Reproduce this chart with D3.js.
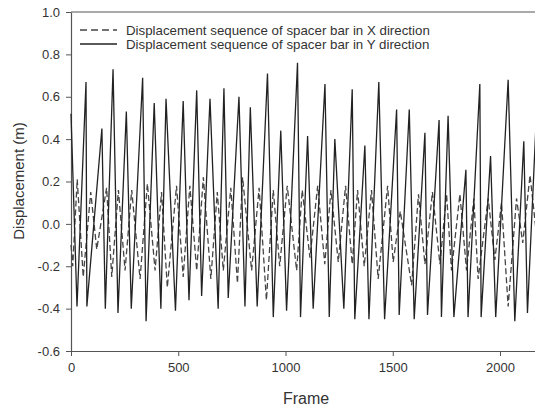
<!DOCTYPE html>
<html>
<head>
<meta charset="utf-8">
<script src="https://cdn.jsdelivr.net/npm/d3@7"></script>
<style>
  body { margin: 0; background: #fff; }
  svg text { font-family: "Liberation Sans", Arial, sans-serif; fill: #333; }
</style>
</head>
<body>
<svg id="chart" width="535" height="411"></svg>
<script>
const xTicks = [0, 500, 1000, 1500, 2000];
const yTicks = [-0.6, -0.4, -0.2, 0.0, 0.2, 0.4, 0.6, 0.8, 1.0];
const seriesNames = [
  "Displacement sequence of spacer bar in X direction",
  "Displacement sequence of spacer bar in Y direction"
];

// X direction (dashed) - turning points
const xdirFrames = [0, 8, 29, 57, 92, 120, 166, 190, 221, 252, 283, 322, 356, 392, 422, 449,
  492, 523, 554, 586, 617, 652, 682, 710, 745, 776, 800, 842, 877, 911, 943, 973,
  1008, 1052, 1078, 1114, 1150, 1183, 1212, 1246, 1280, 1311, 1336, 1367, 1401, 1432,
  1476, 1502, 1535, 1588, 1620, 1650, 1685, 1720, 1751, 1774, 1813, 1844, 1878, 1898,
  1945, 1976, 2007, 2038, 2077, 2106, 2140, 2170];
const xdirValues = [-0.10, -0.20, 0.21, -0.25, 0.15, -0.12, 0.17, -0.25, 0.16, -0.22, 0.16, -0.26, 0.19, -0.22, 0.15, -0.30,
  0.18, -0.25, 0.18, -0.22, 0.22, -0.26, 0.15, -0.22, 0.17, -0.28, 0.22, -0.22, 0.17, -0.36, 0.16, -0.20,
  0.18, -0.22, 0.16, -0.16, 0.18, -0.19, 0.16, -0.18, 0.18, -0.19, 0.16, -0.20, 0.16, -0.26,
  0.18, -0.18, 0.06, -0.29, 0.14, -0.19, 0.15, -0.19, 0.14, -0.22, 0.14, -0.22, 0.12, -0.26,
  0.12, -0.17, 0.10, -0.39, 0.12, -0.09, 0.23, -0.05];

// Y direction (solid)
const ydirFrames = [0, 28, 70, 74, 144, 160, 196, 219, 258, 281, 334, 350, 388, 419, 443, 487,
  523, 550, 586, 609, 648, 686, 713, 733, 783, 811, 836, 868, 916, 943, 978, 1005,
  1056, 1070, 1103, 1129, 1184, 1204, 1230, 1272, 1311, 1323, 1370, 1389, 1435, 1462,
  1518, 1530, 1577, 1600, 1650, 1662, 1716, 1727, 1758, 1785, 1841, 1851, 1906, 1912,
  1956, 1980, 2038, 2069, 2111, 2128, 2170];
const ydirValues = [0.52, -0.39, 0.67, -0.39, 0.45, -0.40, 0.73, -0.42, 0.53, -0.40, 0.69, -0.46, 0.57, -0.40, 0.59, -0.41,
  0.58, -0.36, 0.63, -0.34, 0.59, -0.40, 0.64, -0.35, 0.60, -0.39, 0.55, -0.39, 0.71, -0.44, 0.44, -0.41,
  0.76, -0.44, 0.415, -0.40, 0.66, -0.44, 0.40, -0.40, 0.635, -0.45, 0.37, -0.45, 0.67, -0.45,
  0.54, -0.43, 0.54, -0.45, 0.43, -0.43, 0.49, -0.44, 0.51, -0.44, 0.255, -0.44, 0.66, -0.44,
  0.32, -0.44, 0.68, -0.46, 0.39, -0.42, 0.52];

const svg = d3.select("#chart");
const width = +svg.attr("width");
const height = +svg.attr("height");

const margin = { top: 12, left: 71, bottom: 60 };

// chart is cut off at the right, so the scale runs past the window
const x = d3.scaleLinear()
  .domain([0, 2500])
  .range([margin.left, margin.left + 2500 * 0.2145]);

const y = d3.scaleLinear()
  .domain([-0.6, 1.0])
  .range([height - margin.bottom, margin.top]);

const axisColor = "#555";

// X axis
const gx = svg.append("g")
  .attr("transform", `translate(0, ${y(-0.6)})`)
  .call(d3.axisBottom(x).tickValues(xTicks).tickSize(5).tickPadding(7).tickSizeOuter(0)
    .tickFormat(d => String(d)));
gx.select(".domain").attr("stroke", axisColor).attr("stroke-width", 1.2);
gx.selectAll(".tick line").attr("stroke", axisColor);
gx.selectAll("text").style("font-size", "13px").attr("fill", "#333");

// Y axis
const gy = svg.append("g")
  .attr("transform", `translate(${margin.left}, 0)`)
  .call(d3.axisLeft(y).tickValues(yTicks).tickSize(5).tickPadding(6).tickSizeOuter(0)
    .tickFormat(d => d.toFixed(1)));
gy.select(".domain").attr("stroke", axisColor).attr("stroke-width", 1.2);
gy.selectAll(".tick line").attr("stroke", axisColor);
gy.selectAll("text").style("font-size", "13px").attr("fill", "#333");

// top frame line
svg.append("line")
  .attr("x1", margin.left)
  .attr("x2", width)
  .attr("y1", y(1.0))
  .attr("y2", y(1.0))
  .attr("stroke", axisColor)
  .attr("stroke-width", 1.2);

// Axis labels
svg.append("text")
  .attr("x", 306)
  .attr("y", 404)
  .attr("text-anchor", "middle")
  .style("font-size", "16px")
  .text("Frame");

svg.append("text")
  .attr("transform", "rotate(-90)")
  .attr("x", -181)
  .attr("y", 24)
  .attr("text-anchor", "middle")
  .style("font-size", "15px")
  .text("Displacement (m)");

// Lines
const xdirData = xdirFrames.map((f, i) => ({ frame: f, value: xdirValues[i] }));
const ydirData = ydirFrames.map((f, i) => ({ frame: f, value: ydirValues[i] }));

const line = d3.line()
  .x(d => x(d.frame))
  .y(d => y(d.value));

svg.append("path")
  .datum(xdirData)
  .attr("fill", "none")
  .attr("stroke", "#444")
  .attr("stroke-width", 1.3)
  .attr("stroke-dasharray", "6,3")
  .attr("d", line);

svg.append("path")
  .datum(ydirData)
  .attr("fill", "none")
  .attr("stroke", "#222")
  .attr("stroke-width", 1.3)
  .attr("d", line);

// Legend
const legend = svg.append("g")
  .attr("transform", "translate(80, 30)");

legend.append("line")
  .attr("x1", 0).attr("x2", 37)
  .attr("y1", 0).attr("y2", 0)
  .attr("stroke", "#444")
  .attr("stroke-width", 1.3)
  .attr("stroke-dasharray", "7,4");

legend.append("text")
  .attr("x", 46)
  .attr("y", 4.5)
  .style("font-size", "13.3px")
  .text(seriesNames[0]);

legend.append("line")
  .attr("x1", 0).attr("x2", 37)
  .attr("y1", 14).attr("y2", 14)
  .attr("stroke", "#222")
  .attr("stroke-width", 1.3);

legend.append("text")
  .attr("x", 46)
  .attr("y", 18.5)
  .style("font-size", "13.3px")
  .text(seriesNames[1]);
</script>
</body>
</html>
